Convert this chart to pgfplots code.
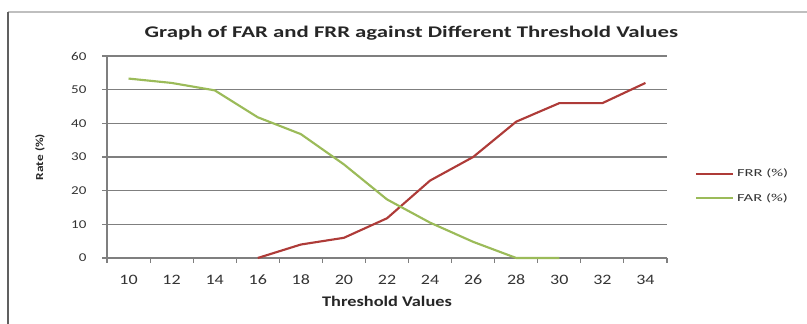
\documentclass[border=0pt]{standalone}
\usepackage{pgfplots}
\pgfplotsset{compat=1.18}
\usepackage{fontspec}
\setmainfont{Carlito}[FakeStretch=1.25]
\newfontfamily\legfont{Carlito}[FakeStretch=1.55]
\newfontfamily\titlefont{Carlito}[FakeStretch=1.4]
\definecolor{frr}{HTML}{AE3B38}
\definecolor{far}{HTML}{9BBB59}
\definecolor{gridc}{HTML}{7F7F7F}
\begin{document}
\begin{tikzpicture}
\useasboundingbox (0pt,0pt) rectangle (605.25pt,243pt);
\draw[gray!50, line width=1.2pt] (6pt,234pt) -- (605.25pt,234pt);
\draw[gray!75!black, line width=1.6pt] (6pt,0pt) -- (6pt,234pt);
\node[font=\titlefont\bfseries\fontsize{12.2}{14}\selectfont, text=black!85] at (308.5pt,218pt) {Graph of FAR and FRR against Different Threshold Values};
\begin{axis}[
  at={(80.25pt,49.5pt)}, anchor=south west,
  width=420pt, height=151.5pt, scale only axis,
  xmin=9, xmax=35, ymin=0, ymax=60,
  axis x line*=bottom, axis y line*=left,
  axis line style={gridc, line width=0.8pt, -},
  xtick={10,12,...,34},
  minor xtick={9,11,...,35},
  ytick={0,10,...,60},
  tick align=outside,
  major tick length=3.75pt, minor tick length=3.75pt,
  every major x tick/.append style={draw=none},
  every minor x tick/.append style={gridc, line width=0.8pt},
  every major y tick/.append style={gridc, line width=0.8pt},
  ymajorgrids,
  major grid style={gridc, line width=1pt},
  /pgf/number format/assume math mode=true,
  xticklabel style={font=\fontsize{10.8}{12}\selectfont, text=black!80, anchor=center, yshift=-12.5pt, inner sep=0pt},
  yticklabel style={font=\fontsize{9}{10}\selectfont, text=black!80, anchor=east, xshift=-11.5pt, inner sep=0pt},
  xlabel={Threshold Values},
  ylabel={Rate (\%)},
  every axis x label/.style={at={(axis description cs:0.5,-0.213)}, anchor=center, font=\bfseries\fontsize{11}{12}\selectfont, text=black!85},
  every axis y label/.style={at={(axis description cs:-0.1196,0.5)}, rotate=90, anchor=center, font=\bfseries\fontsize{8}{9}\selectfont, text=black!85},
  legend style={at={(axis description cs:1.05,0.356)}, anchor=west, draw=none, fill=none, font=\legfont\fontsize{8}{9}\selectfont, row sep=7pt, inner sep=0pt, text=black!80},
  legend cell align=left,
  legend image code/.code={\draw[#1, line width=1.6pt] (0pt,0pt) -- (27.75pt,0pt);},
  clip=false,
]
\addplot[frr, line width=1.6pt] coordinates {
 (16,0) (18,4) (20,6) (22,11.8) (24,23) (26,30) (28,40.5) (30,46) (32,46) (34,52)
};
\addlegendentry{FRR (\%)}
\addplot[far, line width=1.6pt] coordinates {
 (10,53.3) (12,52) (14,49.8) (16,41.8) (18,36.8) (20,27.8) (22,17.4) (24,10.5) (26,4.8) (28,0) (30,0)
};
\addlegendentry{FAR (\%)}
\end{axis}
\end{tikzpicture}
\end{document}
